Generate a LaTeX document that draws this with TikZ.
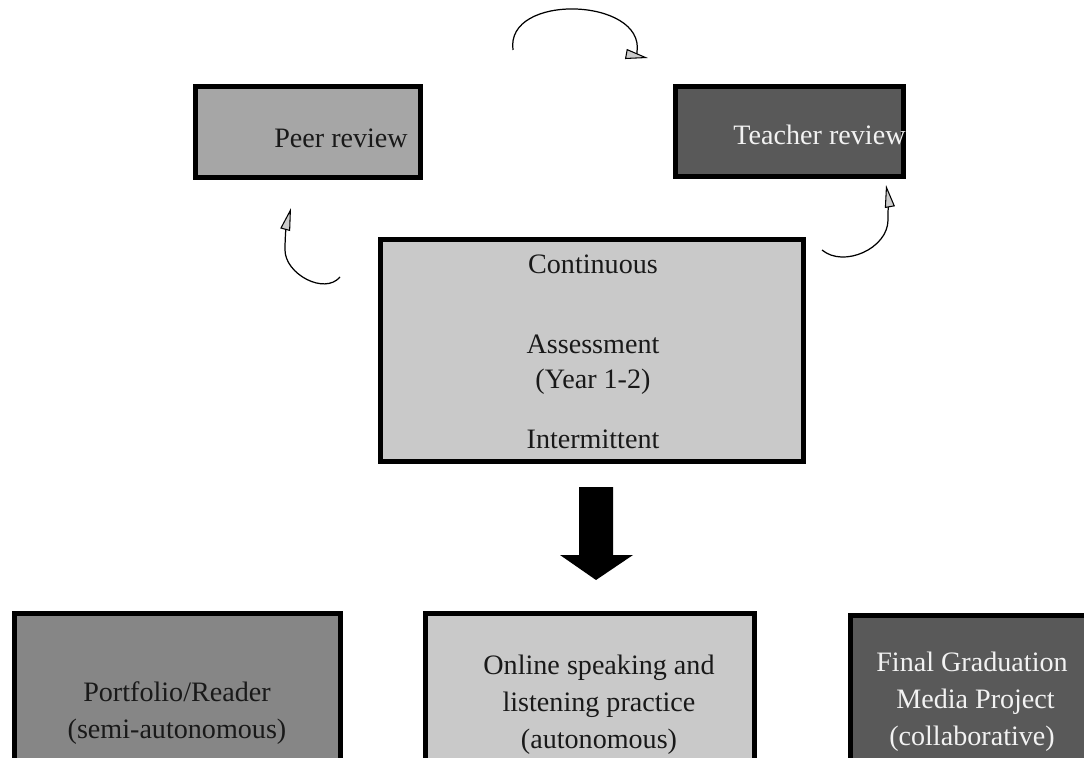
\documentclass[tikz,border=0pt]{standalone}
\usepackage{fontspec}
\setmainfont{Liberation Serif}
\usepackage{xcolor}
\usetikzlibrary{shapes,arrows.meta,positioning,calc}

\definecolor{peergray}{HTML}{A6A6A6}
\definecolor{darkgray}{HTML}{595959}
\definecolor{lightgray}{HTML}{C9C9C9}
\definecolor{midgray}{HTML}{868686}
\definecolor{textwhite}{HTML}{F2F2F2}

\begin{document}
\begin{tikzpicture}[
    box/.style={rectangle, draw=black, line width=0.1cm, inner sep=0pt},
    lbl/.style={font=\fontsize{16}{21}\selectfont, align=center, text=black!90},
    wlbl/.style={lbl, text=textwhite},
    cycarrow/.style={line width=0.7pt, -{Triangle[length=0.45cm, width=0.2cm, fill=black!20, line width=0.6pt]}},
]
\useasboundingbox (0,0) rectangle (21.68,-15.16);

% Review boxes
\node[box, fill=peergray, minimum width=4.5cm, minimum height=1.82cm] (peer) at (6.16,-2.64) {};
\node[lbl] at ($(peer.center)+(0.66,-0.12)$) {Peer review};

\node[box, fill=darkgray, minimum width=4.56cm, minimum height=1.8cm] (teacher) at (15.79,-2.64) {};
\node[wlbl] at ($(teacher.center)+(0.6,-0.06)$) {Teacher review};

% Assessment box
\node[box, fill=lightgray, minimum width=8.46cm, minimum height=4.44cm] (assess) at (11.84,-7.01) {};
\node[lbl] (cont) at (11.86,-5.28) {Continuous};
\node[lbl, font=\fontsize{16}{20}\selectfont] (year) at (11.86,-7.3) {Assessment\\(Year 1-2)};
\node[lbl] (inter) at (11.86,-8.78) {Intermittent};

% Cycle arrows
\coordinate (t1) at (10.26,-1.0);
\coordinate (t2) at (12.96,-1.16);
\draw[cycarrow] (t1) .. controls (10.1,0.15) and (12.9,0.05) .. (12.74,-1.04) .. controls (12.74,-1.12) .. (t2);

\coordinate (l1) at (6.8,-5.54);
\coordinate (l2) at (5.82,-4.16);
\draw[cycarrow] (l1) to[out=-130, in=-90] (5.7,-5.0) to[out=90, in=-105] (l2);

\coordinate (r1) at (16.44,-5.0);
\coordinate (r2) at (17.72,-3.7);
\draw[cycarrow] (r1) to[out=-40, in=-90] (17.76,-4.4) to[out=90, in=-80] (r2);

% Down arrow
\fill[black] (11.58,-9.74) -- (12.26,-9.74) -- (12.26,-11.1) -- (12.66,-11.1)
    -- (11.92,-11.6) -- (11.2,-11.1) -- (11.58,-11.1) -- cycle;

% Outcome boxes
\node[box, fill=midgray, minimum width=6.52cm, minimum height=3.74cm, anchor=north] (port) at (3.55,-12.21) {};
\node[lbl] at (3.54,-14.27) {Portfolio/Reader\\(semi-autonomous)};

\node[box, fill=lightgray, minimum width=6.58cm, minimum height=3.74cm, anchor=north] (online) at (11.8,-12.21) {};
\node[lbl] at (11.98,-14.1) {Online speaking and\\listening practice\\(autonomous)};

\node[box, fill=darkgray, minimum width=5.14cm, minimum height=3.74cm, anchor=north] (media) at (19.58,-12.25) {};
\node[wlbl] at (19.44,-14.04) {Final Graduation\\\ Media Project\\(collaborative)};

\end{tikzpicture}
\end{document}
